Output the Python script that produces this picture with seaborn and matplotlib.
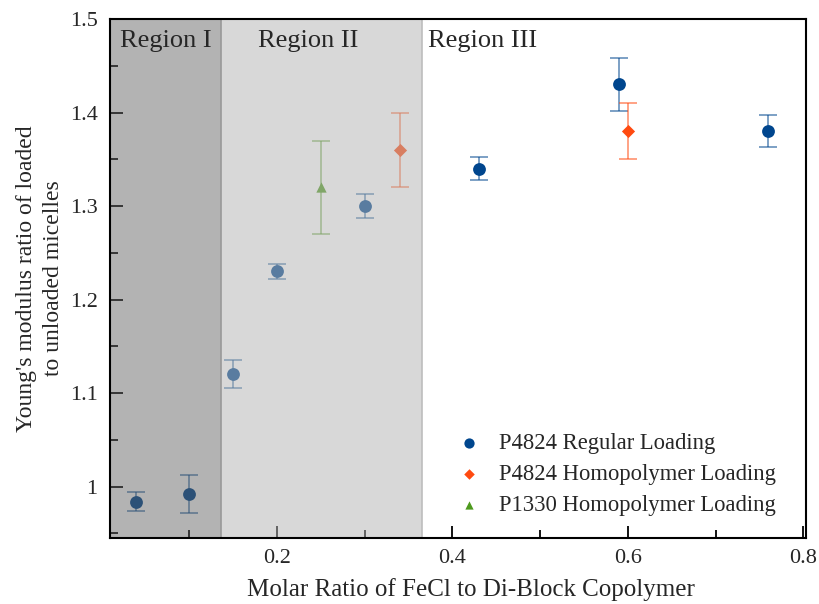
import matplotlib
matplotlib.use("Agg")
import matplotlib.pyplot as plt
import seaborn as sns
import pandas as pd
from matplotlib.ticker import MultipleLocator, FuncFormatter

# data
reg_x = [0.04, 0.10, 0.15, 0.20, 0.30, 0.43, 0.59, 0.76]
reg_y = [0.984, 0.992, 1.120, 1.230, 1.300, 1.340, 1.430, 1.380]
reg_err = [0.010, 0.020, 0.015, 0.008, 0.013, 0.012, 0.028, 0.017]

homo_x = [0.34, 0.60]
homo_y = [1.360, 1.380]
homo_err = [0.040, 0.030]

p1330_x = [0.25]
p1330_y = [1.320]
p1330_err = [0.050]

labels = ["P4824 Regular Loading", "P4824 Homopolymer Loading", "P1330 Homopolymer Loading"]
colors = ["#00468e", "#ff4a10", "#4e9a1e"]
markers = ["o", "D", "^"]
sizes = [85, 45, 55]

region_edges = [0.01, 0.137, 0.366]
region_names = ["Region I", "Region II", "Region III"]

sns.set_theme(style="white")
plt.rcParams["font.family"] = ["Liberation Serif", "DejaVu Serif"]

fig = plt.figure(figsize=(8.19, 6.04), dpi=100)
ax = fig.add_axes([110/819, 66/604, 696/819, 519/604])

series = [(reg_x, reg_y, reg_err), (homo_x, homo_y, homo_err), (p1330_x, p1330_y, p1330_err)]
for (xs, ys, es), lab, c, m, s in zip(series, labels, colors, markers, sizes):
    ax.errorbar(xs, ys, yerr=es, fmt="none", ecolor=c, alpha=0.6, elinewidth=1.2,
                capsize=6.5, capthick=1.2, zorder=2)
    df = pd.DataFrame({"x": xs, "y": ys})
    sns.scatterplot(data=df, x="x", y="y", ax=ax, color=c, marker=m, s=s,
                    linewidth=0, label=lab, zorder=3)

# shaded regions drawn over the points
ax.axvspan(region_edges[0] - 0.02, region_edges[1], facecolor=(95/255, 95/255, 95/255),
           alpha=0.475, edgecolor="none", zorder=5)
ax.axvspan(region_edges[1], region_edges[2], facecolor=(178/255, 178/255, 178/255),
           alpha=0.5, edgecolor="none", zorder=5)
ax.axvline(region_edges[1], color="#999999", lw=1.2, zorder=6)
ax.axvline(region_edges[2], color="#bdbdbd", lw=1.2, zorder=6)

ax.text(0.0735, 1.488, region_names[0], ha="center", va="top", fontsize=19, zorder=7)
ax.text(0.236, 1.488, region_names[1], ha="center", va="top", fontsize=19, zorder=7)
ax.text(0.372, 1.488, region_names[2], ha="left", va="top", fontsize=19, zorder=7)

ax.set_xlim(0.01, 0.803)
ax.set_ylim(0.945, 1.5)
ax.xaxis.set_major_locator(MultipleLocator(0.2))
ax.xaxis.set_minor_locator(MultipleLocator(0.1))
ax.yaxis.set_major_locator(MultipleLocator(0.1))
ax.yaxis.set_minor_locator(MultipleLocator(0.05))
ax.yaxis.set_major_formatter(FuncFormatter(lambda v, p: f"{v:g}"))
ax.xaxis.set_major_formatter(FuncFormatter(lambda v, p: f"{v:.1f}"))
ax.tick_params(axis="both", which="major", direction="in", length=9, width=1.3,
               labelsize=16, color="black", bottom=True, left=True)
ax.tick_params(axis="x", which="major", pad=8)
ax.tick_params(axis="y", which="major", pad=9)
ax.tick_params(axis="both", which="minor", direction="in", length=6, width=1.3,
               color="black", bottom=True, left=True)
for sp in ax.spines.values():
    sp.set_color("black")
    sp.set_linewidth(1.5)
    sp.set_zorder(10)

ax.set_xlabel("Molar Ratio of FeCl to Di-Block Copolymer", fontsize=18)
ax.xaxis.set_label_coords(0.519, -0.077)
ax.set_ylabel("Young's modulus ratio of loaded\nto unloaded micelles", fontsize=17,
              linespacing=1.4)
ax.yaxis.set_label_coords(-0.066, 0.5)

leg = ax.legend(loc="lower right", frameon=False, fontsize=16.3, handletextpad=0.3,
                labelspacing=0.45, markerscale=0.8, borderaxespad=0.3,
                bbox_to_anchor=(0.979, 0.012))
leg.set_zorder(11)

fig.savefig("out.png", dpi=100)
